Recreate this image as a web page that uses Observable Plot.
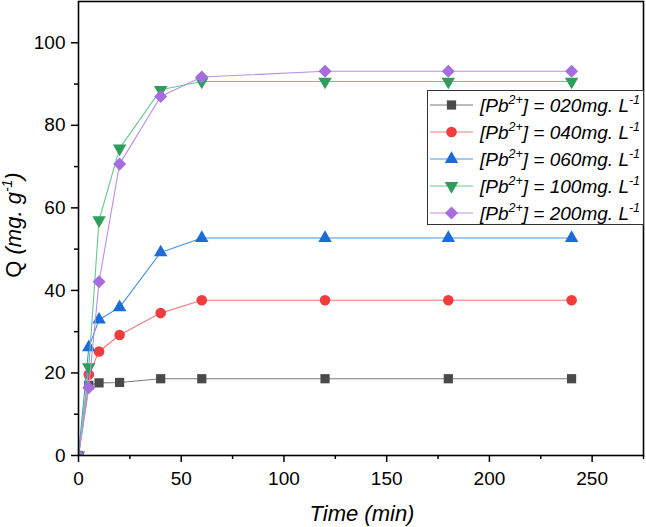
<!DOCTYPE html>
<html>
<head>
<meta charset="utf-8">
<script src="https://cdn.jsdelivr.net/npm/d3@7"></script>
<script src="https://cdn.jsdelivr.net/npm/@observablehq/plot@0.6"></script>
<style>
  html, body { margin: 0; padding: 0; background: #fff; }
  #chart svg { display: block; }
</style>
</head>
<body>
<div id="chart"></div>
<script>
// ---- data ----
const times = [0, 5, 10, 20, 40, 60, 120, 180, 240];
const seriesKeys = ["020", "040", "060", "100", "200"];
const q020 = [0, 17.0, 17.6, 17.7, 18.6, 18.6, 18.6, 18.6, 18.6];
const q040 = [0, 19.6, 25.2, 29.2, 34.5, 37.6, 37.6, 37.6, 37.6];
const q060 = [0, 26.2, 32.9, 35.9, 49.2, 52.7, 52.7, 52.7, 52.7];
const q100 = [0, 21.4, 57.0, 74.4, 88.6, 90.6, 90.6, 90.6, 90.6];
const q200 = [0, 16.4, 42.1, 70.6, 87.0, 91.7, 93.1, 93.1, 93.1];
const xTicks = [0, 50, 100, 150, 200, 250];
const xMinor = [25, 75, 125, 175, 225, 275];
const yTicks = [0, 20, 40, 60, 80, 100];
const yMinor = [10, 30, 50, 70, 90];

// ---- styles ----
const styles = {
  "020": {marker: "#4a4a4a", line: "#7a7a7a", symbol: "square", r: 5.2, rotate: 0},
  "040": {marker: "#ef3d3d", line: "#f47a7a", symbol: "circle", r: 5.3, rotate: 0},
  "060": {marker: "#1c6cd8", line: "#4a8fe8", symbol: "triangle", r: 5.0, rotate: 0},
  "100": {marker: "#2f9e5c", line: "#67c98f", symbol: "triangle", r: 5.0, rotate: 180},
  "200": {marker: "#a56de0", line: "#bb8fe8", symbol: "square", r: 5.2, rotate: 45}
};
const values = {"020": q020, "040": q040, "060": q060, "100": q100, "200": q200};

const marks = [];
for (const k of seriesKeys) {
  const st = styles[k];
  const data = times.map((t, i) => ({t, q: values[k][i]}));
  marks.push(Plot.line(data, {x: "t", y: "q", stroke: st.line, strokeWidth: 1.1, clip: true}));
  marks.push(Plot.dot(data, {x: "t", y: "q", symbol: st.symbol, r: st.r, rotate: st.rotate, fill: st.marker, stroke: "none", clip: true}));
}

const plot = Plot.plot({
  width: 646,
  height: 527,
  marginLeft: 78,
  marginRight: 3,
  marginTop: 1,
  marginBottom: 72,
  style: {fontFamily: "'Liberation Sans', Arial, sans-serif", color: "black", background: "white"},
  x: {domain: [0, 275]},
  y: {domain: [0, 110]},
  marks: [
    ...marks,
    Plot.axisX({ticks: xTicks, tickSize: 7, tickPadding: 9, fontSize: 19, strokeWidth: 1.5, label: null}),
    Plot.axisX({ticks: xMinor, tickSize: 4, tickFormat: () => "", strokeWidth: 1.5, label: null}),
    Plot.axisY({ticks: yTicks, tickSize: 7, tickPadding: 6, fontSize: 19, strokeWidth: 1.5, label: null}),
    Plot.axisY({ticks: yMinor, tickSize: 4, tickFormat: () => "", strokeWidth: 1.5, label: null}),
    Plot.frame({stroke: "black", strokeWidth: 1.6})
  ]
});
document.getElementById("chart").appendChild(plot);

const svg = d3.select(plot);
const font = "'Liberation Sans', Arial, sans-serif";

// x axis label
svg.append("text")
  .attr("x", 362).attr("y", 521)
  .attr("text-anchor", "middle")
  .attr("font-family", font).attr("font-size", 22).attr("font-style", "italic")
  .attr("fill", "black")
  .text("Time (min)");

// y axis label
const yl = svg.append("text")
  .attr("transform", "translate(21,225) rotate(-90)")
  .attr("text-anchor", "middle")
  .attr("font-family", font).attr("font-size", 22)
  .attr("fill", "black");
yl.append("tspan").text("Q ");
yl.append("tspan").attr("font-style", "italic").text("(mg. g");
yl.append("tspan").attr("font-style", "italic").attr("font-size", 14).attr("dy", -9).text("-1");
yl.append("tspan").attr("font-style", "italic").attr("dy", 9).text(")");

// legend
const lg = svg.append("g");
lg.append("rect")
  .attr("x", 427.5).attr("y", 90.5).attr("width", 216).attr("height", 134)
  .attr("fill", "white").attr("stroke", "#333").attr("stroke-width", 1);
seriesKeys.forEach((k, i) => {
  const st = styles[k];
  const cy = 105 + i * 27;
  lg.append("line").attr("x1", 430).attr("x2", 473).attr("y1", cy).attr("y2", cy)
    .attr("stroke", st.line).attr("stroke-width", 1.1);
  const sym = d3.symbol().type(st.symbol === "circle" ? d3.symbolCircle : st.symbol === "square" ? d3.symbolSquare : d3.symbolTriangle)
    .size(Math.PI * st.r * st.r);
  lg.append("path").attr("d", sym())
    .attr("transform", `translate(451.5,${cy}) rotate(${st.rotate})`)
    .attr("fill", st.marker);
  const t = lg.append("text").attr("x", 480).attr("y", cy + 6.5)
    .attr("text-anchor", "start")
    .attr("font-family", font).attr("font-size", 19).attr("font-style", "italic").attr("fill", "black");
  t.append("tspan").text("[Pb");
  t.append("tspan").attr("font-size", 12.5).attr("dy", -8).text("2+");
  t.append("tspan").attr("dy", 8).text("] = " + k + "mg. L");
  t.append("tspan").attr("font-size", 12.5).attr("dy", -8).text("-1");
});
</script>
</body>
</html>
